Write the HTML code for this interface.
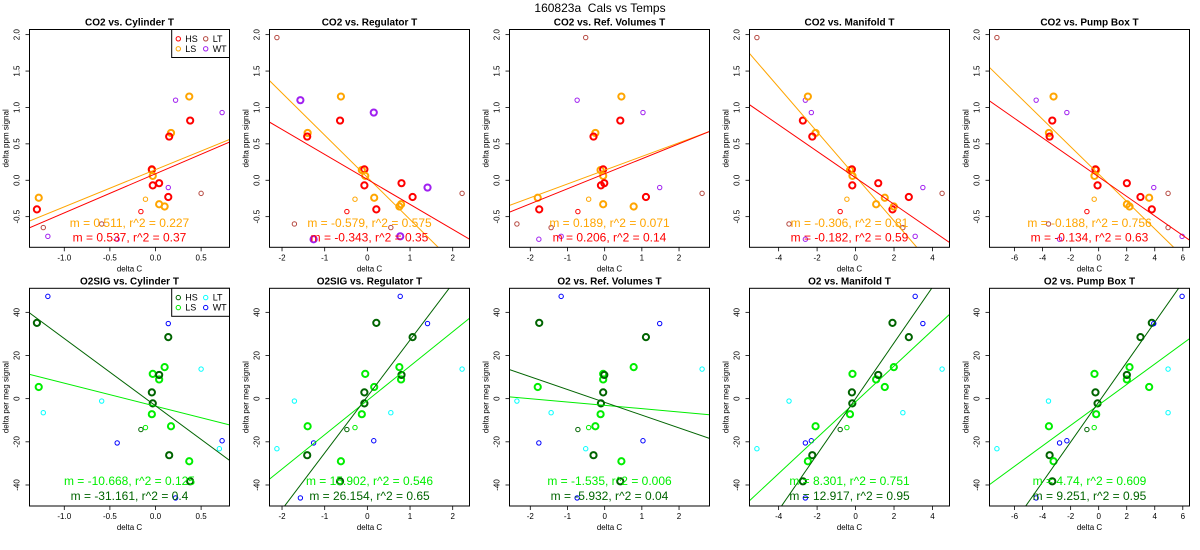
<!DOCTYPE html>
<html><head><meta charset="utf-8"><title>160823a Cals vs Temps</title>
<style>
html,body{margin:0;padding:0;background:#fff;}
svg{display:block;font-family:"Liberation Sans",Arial,sans-serif;}
</style></head>
<body>
<svg id="chart" width="1200" height="550" viewBox="0 0 1200 550" xmlns="http://www.w3.org/2000/svg">
<rect x="0" y="0" width="1200" height="550" fill="#fff"/>
<text x="600" y="12" text-anchor="middle" font-size="12" fill="#000" xml:space="preserve">160823a  Cals vs Temps</text>
</svg>
<script>
// ---- data ----
const groups = ["LT","LT","WT","LS","HS","WT","LS","HS","HS","LS","LS","HS","LS","HS","WT","LS","HS","LT","LS","LS","WT","HS","HS","WT","LT"];
const thick = [0,0,0,1,1,0,1,1,0,0,1,1,1,1,0,1,1,0,1,1,0,1,1,0,0];
const yCO2 = [1.96,-0.60,1.10,0.65,0.60,-0.81,1.15,0.82,-0.43,-0.26,0.14,0.15,0.06,-0.07,0.93,-0.24,-0.40,-0.65,-0.36,-0.33,-0.77,-0.04,-0.23,-0.10,-0.18];
const yO2 = [-23.2,-1.1,-46,-12.8,-26.2,-20.5,-29,-38.3,-14.3,-13.4,-7.2,2.9,11.5,-2.2,-19.5,5.4,35.1,-6.5,14.6,8.9,47.4,11,28.5,34.8,13.7];
const xCylinder = [0.70,-0.59,0.22,0.17,0.15,-0.42,0.37,0.38,-0.16,-0.11,-0.04,-0.04,-0.03,-0.03,0.73,-1.28,-1.30,-1.23,0.10,0.04,-1.18,0.04,0.14,0.14,0.50];
const xRegulator = [-2.12,-1.71,-1.57,-1.40,-1.41,-1.26,-0.62,-0.64,-0.48,-0.29,-0.13,-0.07,-0.05,-0.07,0.15,0.16,0.21,0.55,0.75,0.79,0.77,0.80,1.06,1.41,2.22];
const xRefVol = [-0.51,-2.36,-0.74,-0.25,-0.30,-1.77,0.45,0.42,-0.72,-0.43,-0.11,-0.04,-0.04,-0.10,1.03,-1.80,-1.76,-1.44,0.78,-0.04,-1.17,-0.01,1.11,1.48,2.62];
const xManifold = [-5.13,-3.46,-2.61,-2.08,-2.25,-2.61,-2.48,-2.74,-0.80,-0.45,-0.29,-0.19,-0.16,-0.17,-2.30,1.52,1.92,2.46,1.99,1.07,3.10,1.18,2.77,3.50,4.50];
const xPumpBox = [-7.26,-3.58,-4.46,-3.55,-3.50,-2.79,-3.22,-3.31,-0.84,-0.32,-0.18,-0.23,-0.30,-0.08,-2.27,3.60,3.79,4.95,2.20,2.01,5.95,2.01,2.98,3.93,4.95];

const co2LsSlope = [0.511,-0.579,0.189,-0.306,-0.188];
const co2LsInt = [0.146,0.040,0.138,0.054,0.085];
const co2LsR2 = [0.227,0.575,0.071,0.81,0.756];
const co2HsSlope = [0.537,-0.343,0.206,-0.182,-0.134];
const co2HsInt = [0.089,0.012,0.089,0.034,0.046];
const co2HsR2 = [0.37,0.35,0.14,0.59,0.63];
const o2LsSlope = [-10.668,15.902,-1.535,8.301,4.74];
const o2LsInt = [-3.48,-0.8,-3.1,-1.5,-2.9];
const o2LsR2 = [0.125,0.546,0.006,0.751,0.609];
const o2HsSlope = [-31.161,26.154,-5.932,12.917,9.251];
const o2HsInt = [-3.3,1.0,-1.7,0,-1.6];
const o2HsR2 = [0.4,0.65,0.04,0.95,0.95];

const co2Titles = ["CO2 vs. Cylinder T","CO2 vs. Regulator T","CO2 vs. Ref. Volumes T","CO2 vs. Manifold T","CO2 vs. Pump Box T"];
const o2Titles = ["O2SIG vs. Cylinder T","O2SIG vs. Regulator T","O2 vs. Ref. Volumes T","O2 vs. Manifold T","O2 vs. Pump Box T"];
const xTickSets = [[-1.0,-0.5,0.0,0.5],[-2,-1,0,1,2],[-2,-1,0,1,2],[-4,-2,0,2,4],[-6,-4,-2,0,2,4,6]];
const co2Ticks = [-0.5,0.0,0.5,1.0,1.5,2.0];
const o2Ticks = [-40,-20,0,20,40];

// ---- drawing ----
const NS = "http://www.w3.org/2000/svg";
const svg = document.getElementById("chart");
const co2Col = {HS:"#ff0000",LS:"#ffa500",LT:"#b5473f",WT:"#a020f0"};
const o2Col = {HS:"#006400",LS:"#00ee00",LT:"#00ffff",WT:"#0000ff"};
const xsAll = [xCylinder,xRegulator,xRefVol,xManifold,xPumpBox];

function mk(tag, attrs, parent){
  const e = document.createElementNS(NS, tag);
  for (const k in attrs) e.setAttribute(k, attrs[k]);
  (parent||svg).appendChild(e);
  return e;
}
function range(a){ const mn=Math.min(...a), mx=Math.max(...a), p=(mx-mn)*0.04; return [mn-p,mx+p]; }
function fmtTick(v, dec){ return v.toFixed(dec); }

function panel(row, col){
  const L = 29.5 + col*240, R = L + 200;
  const T = row===0 ? 29.5 : 288.3, B = row===0 ? 247.3 : 506;
  const xs = xsAll[col];
  const ys = row===0 ? yCO2 : yO2;
  const xl = range(xs), yl = range(ys);
  const sx = v => L + (v - xl[0]) / (xl[1]-xl[0]) * (R-L);
  const sy = v => B - (v - yl[0]) / (yl[1]-yl[0]) * (B-T);
  const g = mk("g", {});
  
  
  const cid = "clip"+row+"_"+col;
  const cp = mk("clipPath", {id:cid}, g);
  mk("rect", {x:L, y:T, width:R-L, height:B-T}, cp);

  const title = mk("text", {x:(L+R)/2, y:T-4, "text-anchor":"middle", "font-size":"10", "font-weight":"bold", fill:"#000"}, g);
  title.textContent = (row===0?co2Titles:o2Titles)[col];
  
  

  const xt = xTickSets[col];
  const dec = col===0 ? 1 : 0;
  xt.forEach(v => {
    const x = sx(v);
    mk("line", {x1:x, y1:B, x2:x, y2:B+4, stroke:"#000", "stroke-width":"0.8"}, g);
    const t = mk("text", {x:x, y:B+13, "text-anchor":"middle", "font-size":"8", fill:"#000"}, g);
    t.textContent = fmtTick(v, dec);
    
    
  });
  const xlab = mk("text", {x:(L+R)/2, y:B+24, "text-anchor":"middle", "font-size":"8", fill:"#000"}, g);
  xlab.textContent = "delta C";
  
  

  const yt = row===0 ? co2Ticks : o2Ticks;
  yt.forEach(v => {
    const y = sy(v);
    mk("line", {x1:L-4, y1:y, x2:L, y2:y, stroke:"#000", "stroke-width":"0.8"}, g);
    const t = mk("text", {x:0, y:0, "text-anchor":"middle", "font-size":"8", fill:"#000", transform:"translate("+(L-10)+","+y+") rotate(-90)"}, g);
    t.textContent = row===0 ? fmtTick(v,1) : String(v);
    
    
  });
  const ylab = mk("text", {x:0, y:0, "text-anchor":"middle", "font-size":"8", fill:"#000", transform:"translate("+(L-21)+","+((T+B)/2)+") rotate(-90)"}, g);
  ylab.textContent = row===0 ? "delta ppm signal" : "delta per meg signal";
  
  

  const cols = row===0 ? co2Col : o2Col;
  const pg = mk("g", {"clip-path":"url(#"+cid+")"}, g);
  xs.forEach((xv, i) => {
    const grp = groups[i];
    const th = thick[i] || (row===0 && col===1 && grp==="WT");
    const c = mk("circle", {cx:sx(xv), cy:sy(ys[i]), r: th?3.1:2.2, fill:"none", stroke:cols[grp], "stroke-width": th?2:1}, pg);
    
    
  });
  const fits = row===0
    ? [[co2LsSlope[col],co2LsInt[col],cols.LS,"ls"],[co2HsSlope[col],co2HsInt[col],cols.HS,"hs"]]
    : [[o2LsSlope[col],o2LsInt[col],cols.LS,"ls"],[o2HsSlope[col],o2HsInt[col],cols.HS,"hs"]];
  fits.forEach(f => {
    const ln = mk("line", {x1:sx(xl[0]), y1:sy(f[1]+f[0]*xl[0]), x2:sx(xl[1]), y2:sy(f[1]+f[0]*xl[1]), stroke:f[2], "stroke-width":"1"}, pg);
    
    
  });
  mk("rect", {x:L, y:T, width:R-L, height:B-T, fill:"none", stroke:"#000", "stroke-width":"1"}, g);

  const s1 = row===0 ? co2LsSlope[col] : o2LsSlope[col];
  const r1 = row===0 ? co2LsR2[col] : o2LsR2[col];
  const s2 = row===0 ? co2HsSlope[col] : o2HsSlope[col];
  const r2 = row===0 ? co2HsR2[col] : o2HsR2[col];
  const ty1 = row===0 ? 227 : 485, ty2 = row===0 ? 241.5 : 500;
  const t1 = mk("text", {x:(L+R)/2, y:ty1, "text-anchor":"middle", "font-size":"12", fill:cols.LS}, g);
  t1.textContent = "m = " + s1 + ", r^2 = " + r1;
  
  
  const t2 = mk("text", {x:(L+R)/2, y:ty2, "text-anchor":"middle", "font-size":"12", fill:cols.HS}, g);
  t2.textContent = "m = " + s2 + ", r^2 = " + r2;
  
  

  if (col===0){
    const lg = mk("g", {}, g);
    
    
    const lx = 171.7, ly = T, lw = R - lx, lh = 28;
    mk("rect", {x:lx, y:ly, width:lw, height:lh, fill:"#fff", stroke:"#000", "stroke-width":"1"}, lg);
    const items = [["HS",0,0],["LT",1,0],["LS",0,1],["WT",1,1]];
    items.forEach(it => {
      const cx = lx + 6.6 + it[1]*27.4, cy = ly + 9.3 + it[2]*10;
      const c = mk("circle", {cx:cx, cy:cy, r:2.2, fill:"none", stroke:cols[it[0]], "stroke-width":"1"}, lg);
      
      
      const t = mk("text", {x:cx+7, y:cy+3, "font-size":"9", fill:"#000"}, lg);
      t.textContent = it[0];
      
      
    });
  }
}
for (let r=0;r<2;r++) for (let c=0;c<5;c++) panel(r,c);
</script>
</body></html>
